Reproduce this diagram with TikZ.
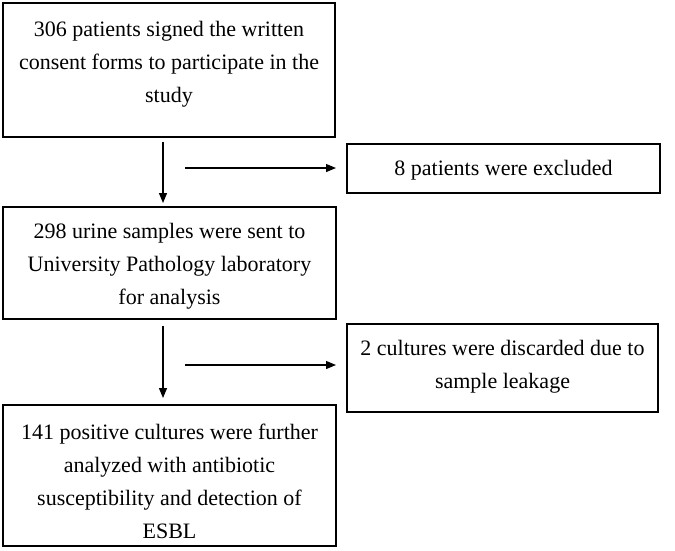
\documentclass[tikz,border=0pt]{standalone}
\usepackage{fontspec}
\setmainfont{Liberation Serif}
\usetikzlibrary{arrows.meta}
\begin{document}
\begin{tikzpicture}[x=1pt,y=-1pt,
  box/.style={draw, line width=1.3pt, inner sep=0pt},
  txt/.style={align=center, font=\fontsize{22}{33}\selectfont, inner sep=0pt},
  arr/.style={line width=1.2pt, -{Triangle[length=10pt,width=8pt]}}]
\useasboundingbox (0,0) rectangle (675,550);
% boxes
\node[box, minimum width=332pt, minimum height=134pt] (b1) at (169,70) {};
\node[box, minimum width=313pt, minimum height=49pt] (bex) at (503.5,168.5) {};
\node[box, minimum width=333pt, minimum height=112pt] (b2) at (169.5,263) {};
\node[box, minimum width=311pt, minimum height=88pt] (bdis) at (502.5,368) {};
\node[box, minimum width=333pt, minimum height=141pt] (b3) at (169.5,475.5) {};
% texts
\node[txt] (t1) at (169,64) {306 patients signed the written\\consent forms to participate in the\\study};
\node[txt] (tex) at (503.5,170.5) {8 patients were excluded};
\node[txt] (t2) at (169.5,266) {298 urine samples were sent to\\University Pathology laboratory\\for analysis};
\node[txt] (tdis) at (502.5,367) {2 cultures were discarded due to\\sample leakage};
\node[txt] (t3) at (169.5,481) {141 positive cultures were further\\analyzed with antibiotic\\susceptibility and detection of\\ESBL};
% connector ends
\coordinate (v1s) at (163,142);
\coordinate (v1e) at (163,203);
\coordinate (v2s) at (163,326);
\coordinate (v2e) at (163,398);
\coordinate (h1s) at (185,168);
\coordinate (h1e) at (336,168);
\coordinate (h2s) at (185,365);
\coordinate (h2e) at (336,365);
\draw[arr] (v1s) -- (v1e);
\draw[arr] (v2s) -- (v2e);
\draw[arr] (h1s) -- (h1e);
\draw[arr] (h2s) -- (h2e);
\end{tikzpicture}
\end{document}
